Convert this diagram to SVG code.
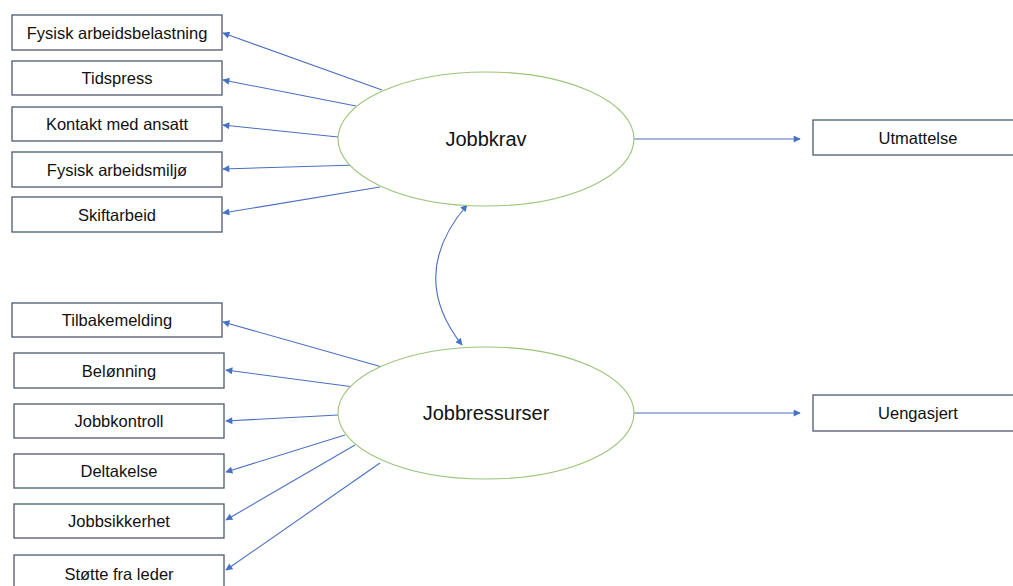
<svg xmlns="http://www.w3.org/2000/svg" width="1013" height="586" viewBox="0 0 1013 586">
  <style>
    .box { fill: #ffffff; stroke: #4d5a70; stroke-width: 1.3; }
    .oval { fill: #ffffff; stroke: #9cc47a; stroke-width: 1.1; }
    .lbl { font-family: "Liberation Sans", Arial, sans-serif; font-size: 16.5px; fill: #111111; text-anchor: middle; }
    .big { font-family: "Liberation Sans", Arial, sans-serif; font-size: 20px; fill: #111111; text-anchor: middle; }
    .edge { fill: none; stroke: #4a6fbf; stroke-width: 1.1; marker-end: url(#tip); }
  </style>
  <defs>
    <marker id="tip" viewBox="0 0 10 10" refX="9" refY="5" markerWidth="8" markerHeight="7" markerUnits="userSpaceOnUse" orient="auto-start-reverse">
      <path d="M0,0 L10,5 L0,10 z" fill="#4472c4"/>
    </marker>
  </defs>

  <rect width="1013" height="586" fill="#ffffff"/>

  <!-- connectors -->
  <g id="connectors">
    <!-- demands to indicators -->
    <line class="edge" x1="382" y1="90" x2="223" y2="33"/>
    <line class="edge" x1="356" y1="106" x2="223" y2="80"/>
    <line class="edge" x1="338" y1="137" x2="223" y2="125"/>
    <line class="edge" x1="357" y1="165" x2="223" y2="169"/>
    <line class="edge" x1="380" y1="187" x2="223" y2="213"/>
    <!-- resources to indicators -->
    <line class="edge" x1="382" y1="367" x2="223" y2="322"/>
    <line class="edge" x1="354" y1="387" x2="226" y2="370"/>
    <line class="edge" x1="338" y1="415" x2="226" y2="421"/>
    <line class="edge" x1="345" y1="435" x2="226" y2="472"/>
    <line class="edge" x1="355" y1="445" x2="226" y2="520"/>
    <line class="edge" x1="380" y1="463" x2="226" y2="570"/>
    <!-- outcomes -->
    <line class="edge" x1="633" y1="139" x2="800" y2="139"/>
    <line class="edge" x1="633" y1="413" x2="800" y2="413"/>
    <!-- correlation -->
    <path class="edge" d="M462,345 Q407,275 467,205" marker-start="url(#tip)"/>
  </g>

  <g id="node-jobbkrav">
    <ellipse class="oval" cx="486" cy="139" rx="148" ry="67"/>
    <text class="big" x="486" y="146">Jobbkrav</text>
  </g>
  <g id="node-jobbressurser">
    <ellipse class="oval" cx="486" cy="413" rx="148" ry="66"/>
    <text class="big" x="486" y="420">Jobbressurser</text>
  </g>

  <g id="node-fysisk-arbeidsbelastning">
    <rect class="box" x="12" y="15" width="210" height="35"/>
    <text class="lbl" x="117" y="38.5">Fysisk arbeidsbelastning</text>
  </g>
  <g id="node-tidspress">
    <rect class="box" x="12" y="61" width="210" height="34"/>
    <text class="lbl" x="117" y="84">Tidspress</text>
  </g>
  <g id="node-kontakt-med-ansatt">
    <rect class="box" x="12" y="107" width="210" height="34"/>
    <text class="lbl" x="117" y="130">Kontakt med ansatt</text>
  </g>
  <g id="node-fysisk-arbeidsmiljo">
    <rect class="box" x="12" y="152" width="210" height="35"/>
    <text class="lbl" x="117" y="175.5">Fysisk arbeidsmiljø</text>
  </g>
  <g id="node-skiftarbeid">
    <rect class="box" x="12" y="197" width="210" height="35"/>
    <text class="lbl" x="117" y="220.5">Skiftarbeid</text>
  </g>

  <g id="node-tilbakemelding">
    <rect class="box" x="12" y="303" width="210" height="34"/>
    <text class="lbl" x="117" y="326">Tilbakemelding</text>
  </g>
  <g id="node-belonning">
    <rect class="box" x="14" y="353" width="210" height="35"/>
    <text class="lbl" x="119" y="376.5">Belønning</text>
  </g>
  <g id="node-jobbkontroll">
    <rect class="box" x="14" y="404" width="210" height="34"/>
    <text class="lbl" x="119" y="427">Jobbkontroll</text>
  </g>
  <g id="node-deltakelse">
    <rect class="box" x="14" y="454" width="210" height="34"/>
    <text class="lbl" x="119" y="477">Deltakelse</text>
  </g>
  <g id="node-jobbsikkerhet">
    <rect class="box" x="14" y="504" width="210" height="34"/>
    <text class="lbl" x="119" y="527">Jobbsikkerhet</text>
  </g>
  <g id="node-stotte-fra-leder">
    <rect class="box" x="14" y="555" width="210" height="36"/>
    <text class="lbl" x="119" y="580">Støtte fra leder</text>
  </g>

  <g id="node-utmattelse">
    <rect class="box" x="813" y="120" width="210" height="35"/>
    <text class="lbl" x="918" y="143.5">Utmattelse</text>
  </g>
  <g id="node-uengasjert">
    <rect class="box" x="813" y="395" width="210" height="36"/>
    <text class="lbl" x="918" y="419">Uengasjert</text>
  </g>
</svg>
